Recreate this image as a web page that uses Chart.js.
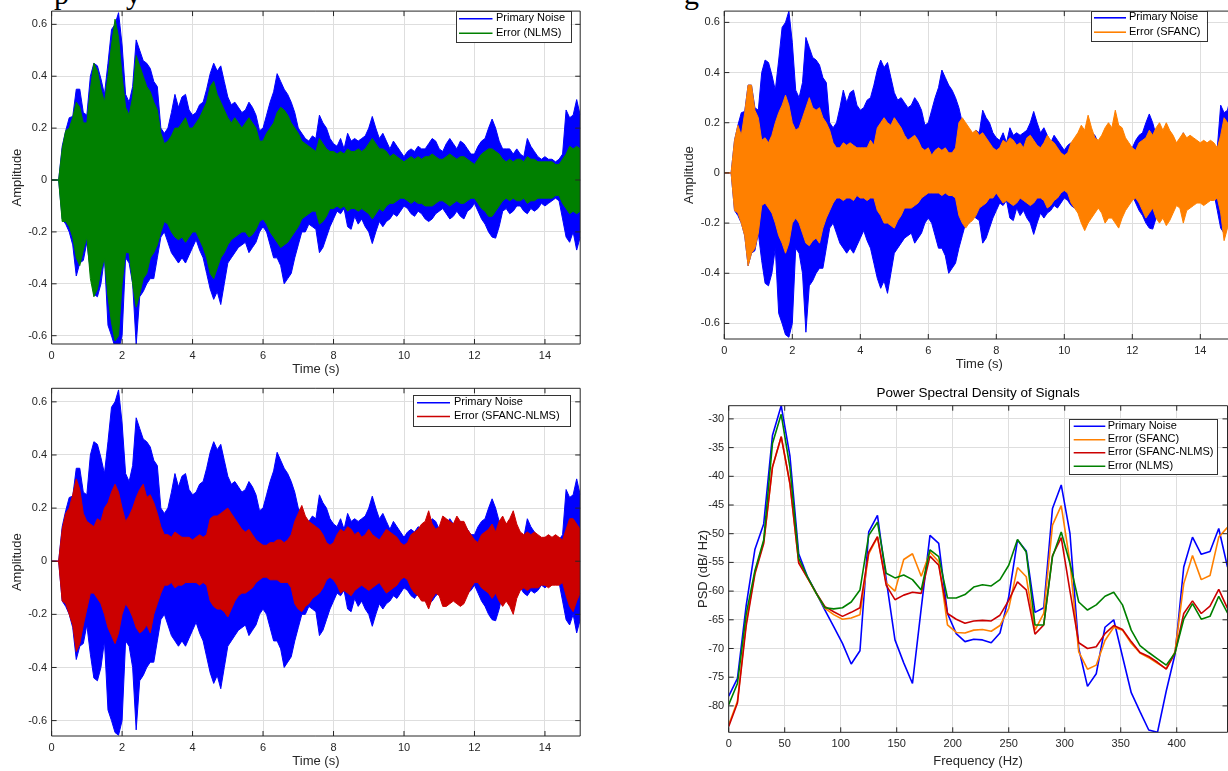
<!DOCTYPE html>
<html>
<head>
<meta charset="utf-8">
<script src="https://cdn.jsdelivr.net/npm/chart.js@4.4.1/dist/chart.umd.min.js"></script>
<style>
html,body{margin:0;padding:0;background:#fff;overflow:hidden;width:1228px;height:771px;position:relative;}
canvas{position:absolute;left:0;top:0;}
.frag{position:absolute;font-family:"Liberation Serif",serif;font-size:30px;line-height:30px;color:#000;}
</style>
</head>
<body>
<span class="frag" style="left:54px;top:-21px">p</span>
<span class="frag" style="left:126px;top:-21px">y</span>
<span class="frag" style="left:684px;top:-21px">g</span>
<canvas id="cTL" width="1260" height="771"></canvas>
<canvas id="cTR" width="1260" height="771"></canvas>
<canvas id="cBL" width="1260" height="771"></canvas>
<canvas id="cBR" width="1260" height="771"></canvas>
<script>
// ---------------- DATA ----------------
const timeStep = 0.1;
const timeTicks = [0, 2, 4, 6, 8, 10, 12, 14];
const ampTicks = [-0.6, -0.4, -0.2, 0, 0.2, 0.4, 0.6];

const primaryUpper = [
  0,0,0,0.13,0.19,0.24,0.245,0.35,0.35,0.26,
  0.25,0.4,0.45,0.44,0.39,0.33,0.45,0.58,0.6,0.645,
  0.52,0.33,0.3,0.36,0.54,0.5,0.46,0.45,0.43,0.38,
  0.36,0.2,0.18,0.2,0.26,0.33,0.28,0.32,0.33,0.27,
  0.25,0.26,0.29,0.3,0.35,0.41,0.45,0.42,0.44,0.38,
  0.32,0.29,0.3,0.28,0.26,0.27,0.3,0.28,0.25,0.19,
  0.2,0.25,0.3,0.34,0.41,0.38,0.35,0.33,0.3,0.26,
  0.2,0.18,0.16,0.15,0.17,0.16,0.25,0.22,0.2,0.16,
  0.14,0.13,0.16,0.12,0.18,0.15,0.16,0.15,0.16,0.17,
  0.2,0.245,0.2,0.16,0.18,0.15,0.12,0.15,0.13,0.11,
  0.09,0.11,0.12,0.11,0.13,0.12,0.12,0.14,0.16,0.15,
  0.12,0.11,0.14,0.16,0.14,0.12,0.15,0.14,0.12,0.1,
  0.1,0.13,0.15,0.16,0.2,0.235,0.2,0.15,0.12,0.12,
  0.12,0.1,0.12,0.1,0.09,0.16,0.13,0.11,0.09,0.08,
  0.09,0.08,0.08,0.07,0.08,0.1,0.27,0.24,0.25,0.31,
  0.25];
const primaryLower = [
  0,0,0,-0.15,-0.17,-0.2,-0.25,-0.37,-0.32,-0.31,
  -0.24,-0.35,-0.44,-0.45,-0.4,-0.3,-0.56,-0.6,-0.645,-0.655,
  -0.6,-0.3,-0.32,-0.4,-0.635,-0.45,-0.43,-0.4,-0.38,-0.38,
  -0.3,-0.22,-0.2,-0.24,-0.28,-0.3,-0.32,-0.3,-0.32,-0.29,
  -0.26,-0.23,-0.27,-0.3,-0.36,-0.42,-0.46,-0.43,-0.48,-0.4,
  -0.32,-0.3,-0.28,-0.26,-0.25,-0.24,-0.28,-0.26,-0.24,-0.2,
  -0.18,-0.2,-0.25,-0.3,-0.3,-0.33,-0.4,-0.38,-0.36,-0.3,
  -0.25,-0.2,-0.2,-0.17,-0.18,-0.19,-0.28,-0.26,-0.22,-0.18,
  -0.15,-0.12,-0.13,-0.11,-0.18,-0.19,-0.14,-0.17,-0.15,-0.18,
  -0.2,-0.245,-0.2,-0.16,-0.18,-0.16,-0.15,-0.13,-0.14,-0.12,
  -0.1,-0.11,-0.13,-0.14,-0.12,-0.13,-0.15,-0.16,-0.15,-0.13,
  -0.12,-0.11,-0.13,-0.15,-0.14,-0.12,-0.14,-0.15,-0.12,-0.11,
  -0.09,-0.12,-0.15,-0.17,-0.2,-0.22,-0.224,-0.18,-0.12,-0.11,
  -0.13,-0.12,-0.1,-0.1,-0.12,-0.13,-0.11,-0.12,-0.11,-0.09,
  -0.1,-0.09,-0.08,-0.07,-0.08,-0.15,-0.22,-0.24,-0.2,-0.27,
  -0.22];

const nlmsUpper = [
  0,0,0,0.12,0.19,0.2,0.24,0.3,0.28,0.22,
  0.22,0.35,0.45,0.42,0.35,0.3,0.4,0.52,0.62,0.55,
  0.4,0.28,0.25,0.32,0.48,0.44,0.4,0.36,0.34,0.3,
  0.27,0.18,0.14,0.15,0.17,0.2,0.2,0.22,0.24,0.2,
  0.2,0.22,0.24,0.27,0.3,0.36,0.38,0.33,0.3,0.27,
  0.24,0.22,0.24,0.22,0.2,0.22,0.24,0.22,0.2,0.15,
  0.15,0.18,0.2,0.22,0.26,0.28,0.27,0.25,0.22,0.2,
  0.18,0.15,0.14,0.13,0.12,0.11,0.16,0.14,0.12,0.11,
  0.11,0.1,0.11,0.1,0.12,0.11,0.11,0.12,0.11,0.12,
  0.14,0.16,0.14,0.12,0.12,0.11,0.09,0.1,0.09,0.08,
  0.07,0.08,0.09,0.08,0.09,0.08,0.09,0.09,0.1,0.09,
  0.08,0.08,0.09,0.1,0.09,0.08,0.09,0.09,0.08,0.07,
  0.06,0.08,0.1,0.11,0.12,0.12,0.11,0.1,0.08,0.07,
  0.08,0.07,0.08,0.08,0.07,0.09,0.08,0.08,0.07,0.07,
  0.07,0.07,0.07,0.06,0.06,0.08,0.1,0.13,0.12,0.13,
  0.12];
const nlmsLower = [
  0,0,0,-0.16,-0.16,-0.18,-0.22,-0.3,-0.33,-0.27,
  -0.22,-0.38,-0.45,-0.42,-0.35,-0.3,-0.45,-0.55,-0.62,-0.6,
  -0.4,-0.28,-0.28,-0.4,-0.49,-0.44,-0.38,-0.36,-0.3,-0.28,
  -0.25,-0.2,-0.16,-0.17,-0.2,-0.22,-0.23,-0.22,-0.24,-0.22,
  -0.2,-0.2,-0.23,-0.26,-0.3,-0.36,-0.38,-0.34,-0.3,-0.28,
  -0.25,-0.23,-0.22,-0.21,-0.2,-0.2,-0.22,-0.21,-0.19,-0.16,
  -0.15,-0.17,-0.2,-0.22,-0.24,-0.26,-0.25,-0.24,-0.22,-0.2,
  -0.18,-0.15,-0.14,-0.13,-0.12,-0.12,-0.17,-0.16,-0.14,-0.11,
  -0.11,-0.1,-0.11,-0.1,-0.12,-0.11,-0.11,-0.12,-0.11,-0.12,
  -0.13,-0.15,-0.13,-0.11,-0.12,-0.1,-0.09,-0.09,-0.08,-0.07,
  -0.07,-0.08,-0.09,-0.08,-0.09,-0.09,-0.1,-0.1,-0.1,-0.09,
  -0.08,-0.08,-0.09,-0.1,-0.09,-0.08,-0.09,-0.09,-0.08,-0.07,
  -0.07,-0.09,-0.11,-0.12,-0.14,-0.14,-0.12,-0.1,-0.08,-0.07,
  -0.08,-0.07,-0.08,-0.08,-0.07,-0.09,-0.08,-0.08,-0.07,-0.07,
  -0.07,-0.07,-0.07,-0.06,-0.06,-0.09,-0.11,-0.13,-0.12,-0.13,
  -0.12];

const sfancUpper = [
  0,0,0,0.13,0.19,0.15,0.24,0.35,0.35,0.25,
  0.22,0.13,0.14,0.12,0.15,0.2,0.24,0.27,0.31,0.27,
  0.2,0.17,0.18,0.22,0.26,0.3,0.26,0.25,0.26,0.22,
  0.2,0.17,0.12,0.1,0.1,0.12,0.11,0.12,0.11,0.1,
  0.1,0.1,0.1,0.13,0.11,0.18,0.2,0.22,0.2,0.19,
  0.22,0.2,0.18,0.15,0.13,0.14,0.15,0.13,0.1,0.09,
  0.1,0.07,0.09,0.1,0.09,0.1,0.08,0.08,0.1,0.2,
  0.22,0.2,0.18,0.16,0.17,0.15,0.16,0.14,0.12,0.1,
  0.09,0.1,0.13,0.12,0.14,0.13,0.11,0.12,0.1,0.14,
  0.15,0.13,0.11,0.1,0.12,0.15,0.13,0.12,0.1,0.08,
  0.07,0.08,0.12,0.14,0.16,0.19,0.17,0.23,0.18,0.14,
  0.13,0.15,0.18,0.2,0.18,0.25,0.19,0.18,0.14,0.12,
  0.1,0.09,0.12,0.13,0.14,0.17,0.15,0.18,0.2,0.17,
  0.2,0.17,0.15,0.12,0.14,0.16,0.14,0.15,0.14,0.13,
  0.12,0.13,0.12,0.13,0.12,0.1,0.15,0.22,0.2,0.18,
  0.15];
const sfancLower = [
  0,0,0,-0.15,-0.16,-0.2,-0.25,-0.37,-0.32,-0.3,
  -0.24,-0.13,-0.12,-0.14,-0.16,-0.2,-0.25,-0.28,-0.32,-0.28,
  -0.2,-0.18,-0.2,-0.24,-0.28,-0.29,-0.27,-0.26,-0.28,-0.22,
  -0.18,-0.15,-0.12,-0.1,-0.1,-0.11,-0.1,-0.1,-0.11,-0.09,
  -0.1,-0.1,-0.11,-0.1,-0.1,-0.15,-0.17,-0.2,-0.2,-0.21,
  -0.22,-0.19,-0.17,-0.14,-0.14,-0.14,-0.13,-0.12,-0.1,-0.09,
  -0.08,-0.08,-0.08,-0.08,-0.09,-0.08,-0.09,-0.09,-0.1,-0.17,
  -0.2,-0.22,-0.2,-0.19,-0.17,-0.14,-0.13,-0.12,-0.1,-0.1,
  -0.08,-0.1,-0.12,-0.11,-0.12,-0.13,-0.12,-0.1,-0.11,-0.12,
  -0.13,-0.12,-0.1,-0.1,-0.11,-0.14,-0.13,-0.11,-0.1,-0.08,
  -0.07,-0.08,-0.12,-0.14,-0.16,-0.2,-0.23,-0.2,-0.18,-0.16,
  -0.14,-0.16,-0.2,-0.18,-0.18,-0.2,-0.22,-0.18,-0.15,-0.13,
  -0.11,-0.1,-0.12,-0.15,-0.18,-0.16,-0.14,-0.18,-0.2,-0.18,
  -0.21,-0.19,-0.16,-0.13,-0.14,-0.2,-0.15,-0.14,-0.13,-0.12,
  -0.12,-0.13,-0.12,-0.11,-0.11,-0.1,-0.16,-0.27,-0.22,-0.2,
  -0.17];

const sfancNlmsUpper = [
  0,0,0,0.12,0.18,0.2,0.25,0.31,0.27,0.18,
  0.15,0.14,0.13,0.16,0.15,0.2,0.22,0.26,0.29,0.26,
  0.2,0.15,0.17,0.2,0.24,0.27,0.29,0.24,0.25,0.22,
  0.18,0.13,0.1,0.1,0.09,0.11,0.1,0.09,0.09,0.09,
  0.08,0.09,0.1,0.09,0.1,0.16,0.17,0.17,0.18,0.19,
  0.2,0.18,0.16,0.14,0.12,0.11,0.12,0.1,0.08,0.07,
  0.06,0.06,0.07,0.07,0.08,0.08,0.07,0.08,0.1,0.15,
  0.18,0.21,0.17,0.15,0.14,0.13,0.12,0.1,0.07,0.06,
  0.07,0.1,0.12,0.11,0.13,0.12,0.1,0.11,0.09,0.1,
  0.12,0.1,0.09,0.08,0.1,0.12,0.11,0.1,0.09,0.07,
  0.06,0.07,0.1,0.11,0.12,0.14,0.15,0.19,0.14,0.12,
  0.13,0.17,0.16,0.15,0.14,0.17,0.15,0.15,0.12,0.1,
  0.08,0.07,0.1,0.11,0.12,0.14,0.11,0.15,0.17,0.14,
  0.16,0.19,0.14,0.11,0.1,0.11,0.1,0.11,0.1,0.09,
  0.09,0.1,0.09,0.1,0.09,0.08,0.12,0.16,0.16,0.14,
  0.12];
const sfancNlmsLower = [
  0,0,0,-0.15,-0.16,-0.2,-0.24,-0.34,-0.31,-0.24,
  -0.18,-0.12,-0.12,-0.14,-0.16,-0.2,-0.25,-0.28,-0.31,-0.27,
  -0.2,-0.16,-0.18,-0.21,-0.25,-0.27,-0.26,-0.24,-0.27,-0.2,
  -0.16,-0.12,-0.09,-0.09,-0.08,-0.1,-0.09,-0.09,-0.08,-0.08,
  -0.08,-0.08,-0.09,-0.08,-0.09,-0.15,-0.17,-0.18,-0.18,-0.19,
  -0.21,-0.18,-0.15,-0.13,-0.12,-0.12,-0.11,-0.1,-0.08,-0.07,
  -0.06,-0.06,-0.07,-0.07,-0.07,-0.08,-0.08,-0.08,-0.1,-0.16,
  -0.18,-0.19,-0.17,-0.16,-0.14,-0.13,-0.12,-0.1,-0.07,-0.06,
  -0.07,-0.09,-0.12,-0.11,-0.12,-0.13,-0.11,-0.1,-0.09,-0.1,
  -0.11,-0.1,-0.09,-0.08,-0.1,-0.12,-0.11,-0.1,-0.09,-0.07,
  -0.06,-0.07,-0.1,-0.12,-0.13,-0.15,-0.15,-0.18,-0.14,-0.12,
  -0.13,-0.17,-0.17,-0.16,-0.15,-0.16,-0.17,-0.16,-0.13,-0.1,
  -0.08,-0.08,-0.1,-0.11,-0.12,-0.14,-0.12,-0.15,-0.17,-0.15,
  -0.17,-0.2,-0.14,-0.11,-0.1,-0.11,-0.1,-0.1,-0.1,-0.09,
  -0.09,-0.1,-0.09,-0.09,-0.09,-0.08,-0.13,-0.17,-0.19,-0.15,
  -0.12];

// PSD (dB/Hz) at frequency bins spaced 7.8125 Hz (0 ... 445.3 Hz)
const freqStep = 7.8125;
const freqTicks = [0, 50, 100, 150, 200, 250, 300, 350, 400];
const psdTicks = [-80, -75, -70, -65, -60, -55, -50, -45, -40, -35, -30];
const psdPrimary = [
  -78.3,-75.2,-62.5,-52.7,-48.3,-32.9,-27.7,-36.5,-53.5,-57.5,
  -60.3,-63.3,-66.2,-69.1,-72.7,-70.4,-49.7,-46.8,-58.0,-68.5,
  -72.5,-76.1,-63.0,-50.3,-51.7,-63.9,-67.4,-68.8,-68.4,-68.5,
  -69.0,-67.3,-61.0,-51.1,-53.0,-63.7,-62.9,-45.6,-41.5,-50.0,
  -70.0,-76.6,-74.4,-66.3,-65.0,-71.4,-77.7,-81.0,-84.2,-84.6,
  -77.4,-71.0,-55.8,-50.6,-53.6,-53.1,-49.1,-55.8];
const psdSfanc = [
  -83.3,-79.2,-65.5,-56.7,-51.4,-38.4,-33.1,-41.3,-54.9,-57.7,
  -60.4,-63.0,-64.1,-64.9,-64.7,-64.1,-53.5,-50.6,-58.6,-60.0,
  -54.5,-53.5,-57.4,-53.2,-54.9,-65.9,-67.2,-67.3,-66.8,-66.7,
  -67.0,-66.0,-63.0,-55.9,-57.5,-66.8,-63.9,-48.5,-45.1,-55.0,
  -70.6,-73.6,-72.9,-68.6,-66.3,-66.8,-69.1,-70.8,-71.6,-72.6,
  -73.5,-70.6,-58.7,-53.8,-58.0,-57.3,-50.6,-48.9];
const psdSfancNlms = [
  -83.6,-79.5,-66.0,-57.0,-51.7,-38.4,-33.1,-41.3,-55.1,-57.7,
  -60.3,-62.7,-63.6,-64.4,-63.7,-62.9,-53.2,-50.5,-59.0,-61.5,
  -60.7,-60.2,-60.4,-53.9,-55.5,-63.9,-64.9,-65.6,-65.2,-65.1,
  -65.2,-64.2,-61.6,-58.4,-59.8,-67.5,-65.9,-53.8,-50.7,-60.0,
  -69.0,-70.0,-69.7,-67.4,-66.0,-66.7,-68.8,-70.7,-71.4,-72.4,
  -73.6,-70.8,-63.9,-61.7,-63.9,-62.6,-59.7,-63.0];
const psdNlms = [
  -79.8,-76.1,-64.0,-56.4,-51.1,-34.3,-29.2,-38.5,-54.3,-57.5,
  -60.4,-62.9,-63.1,-62.9,-61.9,-59.8,-50.3,-48.0,-56.9,-57.7,
  -57.2,-58.0,-59.8,-52.8,-54.0,-61.2,-61.2,-60.6,-59.3,-58.9,
  -59.1,-58.0,-55.5,-51.0,-53.2,-65.9,-65.9,-54.0,-49.7,-55.2,
  -61.9,-63.3,-62.4,-60.9,-60.2,-62.4,-66.8,-69.5,-70.7,-71.8,
  -72.9,-70.8,-64.9,-62.2,-64.9,-64.4,-60.9,-63.8];

// ---------------- STYLE ----------------
const SANS = '"Liberation Sans", Arial, Helvetica, sans-serif';
const INK = '#262626';
const GRID = '#dedede';
const BLUE = '#0000ff', GREEN = '#008000', ORANGE = '#ff8000', RED = '#cc0000';
const CW = 1260, CH = 771;

function pts(values, step) { return values.map((v, i) => ({ x: i * step, y: v })); }

function band(label, upper, lower, color, order, rank) {
  return [
    { label, data: pts(upper, timeStep), borderColor: color, backgroundColor: color,
      borderWidth: 1, fill: false, order, legendRank: rank },
    { label: label + ' lower', data: pts(lower, timeStep), borderColor: color, backgroundColor: color,
      borderWidth: 1, fill: '-1', order }
  ];
}
function psdLine(label, values, color, order, rank) {
  return { label, data: pts(values, freqStep), borderColor: color, backgroundColor: color,
    borderWidth: 1.6, fill: false, order, legendRank: rank };
}

const matlabAxes = {
  id: 'matlabAxes',
  afterDatasetsDraw(chart, args, o) {
    const { ctx, chartArea: a, scales: { x, y } } = chart;
    ctx.save();
    ctx.strokeStyle = INK;
    ctx.lineWidth = 1;
    ctx.beginPath();
    ctx.rect(a.left, a.top, a.right - a.left, a.bottom - a.top);
    const tl = 5;
    x.ticks.forEach(t => {
      const px = x.getPixelForValue(t.value);
      ctx.moveTo(px, a.bottom); ctx.lineTo(px, a.bottom - tl);
      ctx.moveTo(px, a.top); ctx.lineTo(px, a.top + tl);
    });
    y.ticks.forEach(t => {
      const py = y.getPixelForValue(t.value);
      ctx.moveTo(a.left, py); ctx.lineTo(a.left + tl, py);
      ctx.moveTo(a.right, py); ctx.lineTo(a.right - tl, py);
    });
    ctx.stroke();

    const L = o.legend;
    if (L) {
      const items = chart.data.datasets.filter(d => d.legendRank !== undefined)
        .sort((p, q) => p.legendRank - q.legendRank);
      ctx.fillStyle = '#ffffff';
      ctx.fillRect(L.x, L.y, L.w, L.h);
      ctx.strokeStyle = '#333333';
      ctx.lineWidth = 1;
      ctx.strokeRect(Math.round(L.x) + 0.5, Math.round(L.y) + 0.5, Math.round(L.w), Math.round(L.h));
      ctx.font = '11px ' + SANS;
      ctx.textBaseline = 'middle';
      ctx.textAlign = 'left';
      items.forEach((d, i) => {
        const yy = L.rows[i];
        ctx.strokeStyle = d.borderColor;
        ctx.lineWidth = 1.6;
        ctx.beginPath();
        ctx.moveTo(L.lineX0, yy + 0.5); ctx.lineTo(L.lineX1, yy + 0.5);
        ctx.stroke();
        ctx.fillStyle = '#000000';
        ctx.fillText(d.label, L.textX, yy);
      });
    }
    if (o.title) {
      ctx.font = '13.5px ' + SANS;
      ctx.fillStyle = '#000000';
      ctx.textAlign = 'center';
      ctx.textBaseline = 'middle';
      ctx.fillText(o.title.text, (a.left + a.right) / 2, o.title.y);
    }
    ctx.restore();
  }
};

function makeChart(id, o) {
  const pad = { left: o.area.left - o.yW, top: o.area.top, right: CW - o.area.right, bottom: CH - o.area.bottom - o.xH };
  const tickFont = { family: SANS, size: 11 };
  const titleFont = { family: SANS, size: 13 };
  return new Chart(document.getElementById(id), {
    type: 'line',
    data: { datasets: o.datasets },
    options: {
      responsive: false, animation: false, events: [],
      layout: { padding: pad },
      elements: { point: { radius: 0, hoverRadius: 0 }, line: { tension: 0, borderJoinStyle: 'bevel' } },
      plugins: {
        legend: { display: false }, tooltip: { enabled: false }, title: { display: false },
        matlabAxes: { legend: o.legend, title: o.title }
      },
      scales: {
        x: {
          type: 'linear', min: o.xmin, max: o.xmax,
          afterBuildTicks: s => { s.ticks = o.xTicks.map(v => ({ value: v })); },
          afterFit: s => { s.height = o.xH; },
          grid: { color: GRID, lineWidth: 1, drawTicks: false },
          border: { display: false },
          ticks: { autoSkip: false, maxRotation: 0, minRotation: 0, padding: 5, color: INK, font: tickFont,
                   callback: v => String(v) },
          title: { display: true, text: o.xTitle, color: INK, font: titleFont, padding: { top: 0, bottom: 1.7 } }
        },
        y: {
          type: 'linear', min: o.ymin, max: o.ymax,
          afterBuildTicks: s => { s.ticks = o.yTicks.map(v => ({ value: v })); },
          afterFit: s => { s.width = o.yW; },
          grid: { color: GRID, lineWidth: 1, drawTicks: false },
          border: { display: false },
          ticks: { autoSkip: false, padding: 4.5, color: INK, font: tickFont, callback: o.fmtY },
          title: { display: true, text: o.yTitle, color: INK, font: titleFont, padding: { top: o.yTitlePad, bottom: 0 } }
        }
      }
    },
    plugins: [matlabAxes]
  });
}

const fmtAmp = v => (v === 0 ? '0' : v.toFixed(1));

makeChart('cTL', {
  area: { left: 51.6, top: 4.3, right: 580.2, bottom: 344 }, yW: 51.6, xH: 35, yTitlePad: 9.2,
  xmin: 0, xmax: 15, ymin: -0.632, ymax: 0.651, xTicks: timeTicks, yTicks: ampTicks,
  xTitle: 'Time (s)', yTitle: 'Amplitude', fmtY: fmtAmp,
  datasets: [...band('Error (NLMS)', nlmsUpper, nlmsLower, GREEN, 1, 2),
             ...band('Primary Noise', primaryUpper, primaryLower, BLUE, 2, 1)],
  legend: { x: 455.5, y: 11, w: 115, h: 31.3, lineX0: 459, lineX1: 492.5, textX: 496, rows: [18.3, 32.7] }
});

makeChart('cTR', {
  area: { left: 724.3, top: 4.3, right: 1234.3, bottom: 339 }, yW: 52, xH: 35, yTitlePad: 9.2,
  xmin: 0, xmax: 15, ymin: -0.662, ymax: 0.645, xTicks: timeTicks, yTicks: ampTicks,
  xTitle: 'Time (s)', yTitle: 'Amplitude', fmtY: fmtAmp,
  datasets: [...band('Error (SFANC)', sfancUpper, sfancLower, ORANGE, 1, 2),
             ...band('Primary Noise', primaryUpper, primaryLower, BLUE, 2, 1)],
  legend: { x: 1090.7, y: 10.7, w: 116, h: 30, lineX0: 1094, lineX1: 1126, textX: 1129, rows: [17.3, 31.7] }
});

makeChart('cBL', {
  area: { left: 51.6, top: 388.3, right: 580.2, bottom: 736 }, yW: 51.6, xH: 35, yTitlePad: 9.2,
  xmin: 0, xmax: 15, ymin: -0.658, ymax: 0.651, xTicks: timeTicks, yTicks: ampTicks,
  xTitle: 'Time (s)', yTitle: 'Amplitude', fmtY: fmtAmp,
  datasets: [...band('Error (SFANC-NLMS)', sfancNlmsUpper, sfancNlmsLower, RED, 1, 2),
             ...band('Primary Noise', primaryUpper, primaryLower, BLUE, 2, 1)],
  legend: { x: 412.9, y: 395, w: 157.4, h: 31, lineX0: 417, lineX1: 450, textX: 453.9, rows: [402.3, 416] }
});

makeChart('cBR', {
  area: { left: 728.7, top: 405.7, right: 1227.5, bottom: 732.3 }, yW: 50, xH: 38.7, yTitlePad: 17,
  xmin: 0, xmax: 57 * freqStep, ymin: -84.6, ymax: -27.7, xTicks: freqTicks, yTicks: psdTicks,
  xTitle: 'Frequency (Hz)', yTitle: 'PSD (dB/ Hz)', fmtY: v => String(v),
  datasets: [psdLine('Error (NLMS)', psdNlms, GREEN, 1, 4),
             psdLine('Error (SFANC-NLMS)', psdSfancNlms, RED, 2, 3),
             psdLine('Error (SFANC)', psdSfanc, ORANGE, 3, 2),
             psdLine('Primary Noise', psdPrimary, BLUE, 4, 1)],
  legend: { x: 1069.3, y: 419, w: 148.4, h: 55, lineX0: 1073.7, lineX1: 1105.3, textX: 1107.7,
            rows: [425.7, 439.3, 452.3, 465.7] },
  title: { text: 'Power Spectral Density of Signals', y: 393.3 }
});
</script>
</body>
</html>
